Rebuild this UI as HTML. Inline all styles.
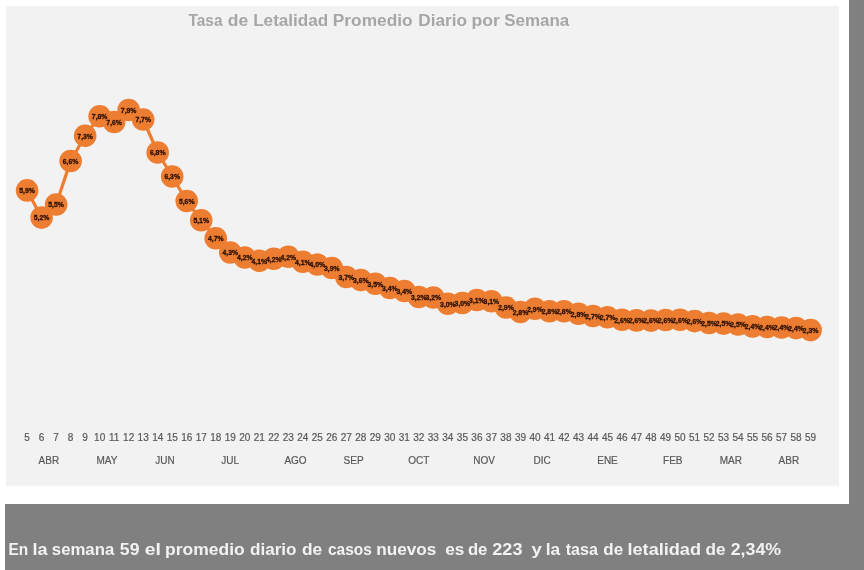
<!DOCTYPE html>
<html lang="es">
<head>
<meta charset="utf-8">
<title>Tasa de Letalidad Promedio Diario por Semana</title>
<style>
html,body{margin:0;padding:0;}
body{width:864px;height:570px;overflow:hidden;background:#808080;position:relative;font-family:"Liberation Sans",sans-serif;}
#white{position:absolute;left:0;top:0;width:849px;height:504px;background:#ffffff;}
#strip{position:absolute;left:0;top:0;width:5px;height:570px;background:#ffffff;}
#panel{position:absolute;left:6.2px;top:5.8px;width:832.4px;height:480.5px;background:#f2f2f2;}
svg{position:absolute;left:0;top:0;}
text{font-family:"Liberation Sans",sans-serif;}
.ax{font-size:10px;fill:#595959;stroke:#595959;stroke-width:0.2px;text-anchor:middle;}
.lb{font-size:6.85px;font-weight:bold;fill:#2a1000;stroke:#2a1000;stroke-width:0.3px;text-anchor:middle;}
</style>
</head>
<body>
<div id="white"></div>
<div id="strip"></div>
<div id="panel"></div>
<svg width="864" height="570" viewBox="0 0 864 570">
<text y="25.7" font-size="16" font-weight="bold" fill="#a6a6a6"><tspan x="188.51" textLength="34.02" lengthAdjust="spacingAndGlyphs">Tasa</tspan> <tspan x="227.71" textLength="20.39" lengthAdjust="spacingAndGlyphs">de</tspan> <tspan x="253.18" textLength="75.08" lengthAdjust="spacingAndGlyphs">Letalidad</tspan> <tspan x="332.80" textLength="79.80" lengthAdjust="spacingAndGlyphs">Promedio</tspan> <tspan x="418.30" textLength="48.60" lengthAdjust="spacingAndGlyphs">Diario</tspan> <tspan x="471.50" textLength="28.26" lengthAdjust="spacingAndGlyphs">por</tspan> <tspan x="504.22" textLength="65.00" lengthAdjust="spacingAndGlyphs">Semana</tspan></text>
<polyline points="27.10,190.40 41.61,217.60 56.12,204.50 70.63,161.00 85.14,135.75 99.65,116.25 114.16,122.00 128.67,110.00 143.18,119.50 157.69,152.50 172.20,176.50 186.71,201.00 201.22,220.30 215.73,238.25 230.24,252.50 244.75,257.50 259.26,260.75 273.77,258.75 288.28,256.75 302.79,261.75 317.30,264.50 331.81,268.00 346.32,277.00 360.83,280.00 375.34,283.75 389.85,288.00 404.36,291.00 418.87,297.00 433.38,297.50 447.89,303.75 462.40,303.00 476.91,300.00 491.42,301.25 505.93,307.50 520.44,312.00 534.95,308.75 549.46,311.25 563.97,311.25 578.48,313.75 592.99,316.00 607.50,317.30 622.01,319.70 636.52,320.40 651.03,320.60 665.54,320.00 680.05,319.80 694.56,321.10 709.07,323.00 723.58,323.60 738.09,324.50 752.60,326.40 767.11,327.00 781.62,327.50 796.13,328.10 810.64,330.10" fill="none" stroke="#ED7D31" stroke-width="3.25" stroke-linejoin="round" stroke-linecap="round"/>
<g fill="#ED7D31">
<circle cx="27.10" cy="190.40" r="11.3"/>
<circle cx="41.61" cy="217.60" r="11.3"/>
<circle cx="56.12" cy="204.50" r="11.3"/>
<circle cx="70.63" cy="161.00" r="11.3"/>
<circle cx="85.14" cy="135.75" r="11.3"/>
<circle cx="99.65" cy="116.25" r="11.3"/>
<circle cx="114.16" cy="122.00" r="11.3"/>
<circle cx="128.67" cy="110.00" r="11.3"/>
<circle cx="143.18" cy="119.50" r="11.3"/>
<circle cx="157.69" cy="152.50" r="11.3"/>
<circle cx="172.20" cy="176.50" r="11.3"/>
<circle cx="186.71" cy="201.00" r="11.3"/>
<circle cx="201.22" cy="220.30" r="11.3"/>
<circle cx="215.73" cy="238.25" r="11.3"/>
<circle cx="230.24" cy="252.50" r="11.3"/>
<circle cx="244.75" cy="257.50" r="11.3"/>
<circle cx="259.26" cy="260.75" r="11.3"/>
<circle cx="273.77" cy="258.75" r="11.3"/>
<circle cx="288.28" cy="256.75" r="11.3"/>
<circle cx="302.79" cy="261.75" r="11.3"/>
<circle cx="317.30" cy="264.50" r="11.3"/>
<circle cx="331.81" cy="268.00" r="11.3"/>
<circle cx="346.32" cy="277.00" r="11.3"/>
<circle cx="360.83" cy="280.00" r="11.3"/>
<circle cx="375.34" cy="283.75" r="11.3"/>
<circle cx="389.85" cy="288.00" r="11.3"/>
<circle cx="404.36" cy="291.00" r="11.3"/>
<circle cx="418.87" cy="297.00" r="11.3"/>
<circle cx="433.38" cy="297.50" r="11.3"/>
<circle cx="447.89" cy="303.75" r="11.3"/>
<circle cx="462.40" cy="303.00" r="11.3"/>
<circle cx="476.91" cy="300.00" r="11.3"/>
<circle cx="491.42" cy="301.25" r="11.3"/>
<circle cx="505.93" cy="307.50" r="11.3"/>
<circle cx="520.44" cy="312.00" r="11.3"/>
<circle cx="534.95" cy="308.75" r="11.3"/>
<circle cx="549.46" cy="311.25" r="11.3"/>
<circle cx="563.97" cy="311.25" r="11.3"/>
<circle cx="578.48" cy="313.75" r="11.3"/>
<circle cx="592.99" cy="316.00" r="11.3"/>
<circle cx="607.50" cy="317.30" r="11.3"/>
<circle cx="622.01" cy="319.70" r="11.3"/>
<circle cx="636.52" cy="320.40" r="11.3"/>
<circle cx="651.03" cy="320.60" r="11.3"/>
<circle cx="665.54" cy="320.00" r="11.3"/>
<circle cx="680.05" cy="319.80" r="11.3"/>
<circle cx="694.56" cy="321.10" r="11.3"/>
<circle cx="709.07" cy="323.00" r="11.3"/>
<circle cx="723.58" cy="323.60" r="11.3"/>
<circle cx="738.09" cy="324.50" r="11.3"/>
<circle cx="752.60" cy="326.40" r="11.3"/>
<circle cx="767.11" cy="327.00" r="11.3"/>
<circle cx="781.62" cy="327.50" r="11.3"/>
<circle cx="796.13" cy="328.10" r="11.3"/>
<circle cx="810.64" cy="330.10" r="11.3"/>
</g>
<g class="lb">
<text x="27.10" y="193.20">5,9%</text>
<text x="41.61" y="220.40">5,2%</text>
<text x="56.12" y="207.30">5,5%</text>
<text x="70.63" y="163.80">6,6%</text>
<text x="85.14" y="138.55">7,3%</text>
<text x="99.65" y="119.05">7,8%</text>
<text x="114.16" y="124.80">7,6%</text>
<text x="128.67" y="112.80">7,9%</text>
<text x="143.18" y="122.30">7,7%</text>
<text x="157.69" y="155.30">6,8%</text>
<text x="172.20" y="179.30">6,3%</text>
<text x="186.71" y="203.80">5,6%</text>
<text x="201.22" y="223.10">5,1%</text>
<text x="215.73" y="241.05">4,7%</text>
<text x="230.24" y="255.30">4,3%</text>
<text x="244.75" y="260.30">4,2%</text>
<text x="259.26" y="263.55">4,1%</text>
<text x="273.77" y="261.55">4,2%</text>
<text x="288.28" y="259.55">4,2%</text>
<text x="302.79" y="264.55">4,1%</text>
<text x="317.30" y="267.30">4,0%</text>
<text x="331.81" y="270.80">3,9%</text>
<text x="346.32" y="279.80">3,7%</text>
<text x="360.83" y="282.80">3,6%</text>
<text x="375.34" y="286.55">3,5%</text>
<text x="389.85" y="290.80">3,4%</text>
<text x="404.36" y="293.80">3,4%</text>
<text x="418.87" y="299.80">3,2%</text>
<text x="433.38" y="300.30">3,2%</text>
<text x="447.89" y="306.55">3,0%</text>
<text x="462.40" y="305.80">3,0%</text>
<text x="476.91" y="302.80">3,1%</text>
<text x="491.42" y="304.05">3,1%</text>
<text x="505.93" y="310.30">2,9%</text>
<text x="520.44" y="314.80">2,8%</text>
<text x="534.95" y="311.55">2,9%</text>
<text x="549.46" y="314.05">2,8%</text>
<text x="563.97" y="314.05">2,8%</text>
<text x="578.48" y="316.55">2,8%</text>
<text x="592.99" y="318.80">2,7%</text>
<text x="607.50" y="320.10">2,7%</text>
<text x="622.01" y="322.50">2,6%</text>
<text x="636.52" y="323.20">2,6%</text>
<text x="651.03" y="323.40">2,6%</text>
<text x="665.54" y="322.80">2,6%</text>
<text x="680.05" y="322.60">2,6%</text>
<text x="694.56" y="323.90">2,6%</text>
<text x="709.07" y="325.80">2,5%</text>
<text x="723.58" y="326.40">2,5%</text>
<text x="738.09" y="327.30">2,5%</text>
<text x="752.60" y="329.20">2,4%</text>
<text x="767.11" y="329.80">2,4%</text>
<text x="781.62" y="330.30">2,4%</text>
<text x="796.13" y="330.90">2,4%</text>
<text x="810.64" y="332.90">2,3%</text>
</g>
<g class="ax">
<text x="27.10" y="440.8">5</text>
<text x="41.61" y="440.8">6</text>
<text x="56.12" y="440.8">7</text>
<text x="70.63" y="440.8">8</text>
<text x="85.14" y="440.8">9</text>
<text x="99.65" y="440.8">10</text>
<text x="114.16" y="440.8">11</text>
<text x="128.67" y="440.8">12</text>
<text x="143.18" y="440.8">13</text>
<text x="157.69" y="440.8">14</text>
<text x="172.20" y="440.8">15</text>
<text x="186.71" y="440.8">16</text>
<text x="201.22" y="440.8">17</text>
<text x="215.73" y="440.8">18</text>
<text x="230.24" y="440.8">19</text>
<text x="244.75" y="440.8">20</text>
<text x="259.26" y="440.8">21</text>
<text x="273.77" y="440.8">22</text>
<text x="288.28" y="440.8">23</text>
<text x="302.79" y="440.8">24</text>
<text x="317.30" y="440.8">25</text>
<text x="331.81" y="440.8">26</text>
<text x="346.32" y="440.8">27</text>
<text x="360.83" y="440.8">28</text>
<text x="375.34" y="440.8">29</text>
<text x="389.85" y="440.8">30</text>
<text x="404.36" y="440.8">31</text>
<text x="418.87" y="440.8">32</text>
<text x="433.38" y="440.8">33</text>
<text x="447.89" y="440.8">34</text>
<text x="462.40" y="440.8">35</text>
<text x="476.91" y="440.8">36</text>
<text x="491.42" y="440.8">37</text>
<text x="505.93" y="440.8">38</text>
<text x="520.44" y="440.8">39</text>
<text x="534.95" y="440.8">40</text>
<text x="549.46" y="440.8">41</text>
<text x="563.97" y="440.8">42</text>
<text x="578.48" y="440.8">43</text>
<text x="592.99" y="440.8">44</text>
<text x="607.50" y="440.8">45</text>
<text x="622.01" y="440.8">46</text>
<text x="636.52" y="440.8">47</text>
<text x="651.03" y="440.8">48</text>
<text x="665.54" y="440.8">49</text>
<text x="680.05" y="440.8">50</text>
<text x="694.56" y="440.8">51</text>
<text x="709.07" y="440.8">52</text>
<text x="723.58" y="440.8">53</text>
<text x="738.09" y="440.8">54</text>
<text x="752.60" y="440.8">55</text>
<text x="767.11" y="440.8">56</text>
<text x="781.62" y="440.8">57</text>
<text x="796.13" y="440.8">58</text>
<text x="810.64" y="440.8">59</text>
<text x="48.86" y="463.8">ABR</text>
<text x="106.91" y="463.8">MAY</text>
<text x="164.94" y="463.8">JUN</text>
<text x="230.24" y="463.8">JUL</text>
<text x="295.53" y="463.8">AGO</text>
<text x="353.58" y="463.8">SEP</text>
<text x="418.87" y="463.8">OCT</text>
<text x="484.17" y="463.8">NOV</text>
<text x="542.20" y="463.8">DIC</text>
<text x="607.50" y="463.8">ENE</text>
<text x="672.80" y="463.8">FEB</text>
<text x="730.84" y="463.8">MAR</text>
<text x="788.88" y="463.8">ABR</text>
</g>
<text y="555.4" font-size="16.2" font-weight="bold" fill="#f2f2f2"><tspan x="8.41" textLength="19.68" lengthAdjust="spacingAndGlyphs">En</tspan> <tspan x="32.48" textLength="15.07" lengthAdjust="spacingAndGlyphs">la</tspan> <tspan x="51.84" textLength="62.43" lengthAdjust="spacingAndGlyphs">semana</tspan> <tspan x="119.85" textLength="19.63" lengthAdjust="spacingAndGlyphs">59</tspan> <tspan x="144.69" textLength="16.25" lengthAdjust="spacingAndGlyphs">el</tspan> <tspan x="165.07" textLength="79.62" lengthAdjust="spacingAndGlyphs">promedio</tspan> <tspan x="249.99" textLength="46.57" lengthAdjust="spacingAndGlyphs">diario</tspan> <tspan x="301.98" textLength="20.23" lengthAdjust="spacingAndGlyphs">de</tspan> <tspan x="328.00" textLength="43.94" lengthAdjust="spacingAndGlyphs">casos</tspan> <tspan x="376.24" textLength="60.15" lengthAdjust="spacingAndGlyphs">nuevos</tspan> <tspan x="445.16" textLength="19.10" lengthAdjust="spacingAndGlyphs">es</tspan> <tspan x="467.96" textLength="19.43" lengthAdjust="spacingAndGlyphs">de</tspan> <tspan x="492.30" textLength="30.19" lengthAdjust="spacingAndGlyphs">223</tspan> <tspan x="531.62" textLength="10.38" lengthAdjust="spacingAndGlyphs">y</tspan> <tspan x="545.76" textLength="14.46" lengthAdjust="spacingAndGlyphs">la</tspan> <tspan x="565.76" textLength="32.20" lengthAdjust="spacingAndGlyphs">tasa</tspan> <tspan x="603.30" textLength="19.82" lengthAdjust="spacingAndGlyphs">de</tspan> <tspan x="627.47" textLength="73.57" lengthAdjust="spacingAndGlyphs">letalidad</tspan> <tspan x="705.63" textLength="20.07" lengthAdjust="spacingAndGlyphs">de</tspan> <tspan x="730.72" textLength="50.41" lengthAdjust="spacingAndGlyphs">2,34%</tspan></text>
</svg>
</body>
</html>
